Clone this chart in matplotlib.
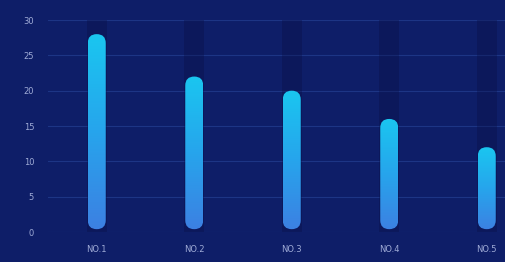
import numpy as np
import matplotlib
matplotlib.use("Agg")
import matplotlib.pyplot as plt
from matplotlib.patches import FancyBboxPatch

# data
categories = ['NO.1', 'NO.2', 'NO.3', 'NO.4', 'NO.5']
values = [28, 22, 20, 16, 12]
y_max = 30
y_ticks = [0, 5, 10, 15, 20, 25, 30]

bg = '#0e1e68'
grid_col = '#1d3585'
text_col = '#9fabd6'

fig = plt.figure(figsize=(5.05, 2.62), dpi=100, facecolor=bg)
# axes runs past the right edge, like the reference crop
ax = fig.add_axes([48/505, 30/262, 487.5/505, 212/262], facecolor=bg)

x = np.arange(len(categories))
ax.set_yticks(y_ticks)
ax.set_xticks(x)
ax.set_xticklabels(categories)
ax.tick_params(axis='y', colors=text_col, labelsize=6, length=0, pad=10)
ax.tick_params(axis='x', colors=text_col, labelsize=6, length=0, pad=9)
ax.grid(axis='y', color=grid_col, linewidth=0.8)
ax.set_axisbelow(True)
for s in ax.spines.values():
    s.set_visible(False)

bar_w = 18 / 97.5
shadow_w = 20 / 97.5
# data units per pixel: x -> 1/97.5, y -> 30/212
m_aspect = (y_max / 212) / (1 / 97.5)

# dark background columns
ax.bar(x, [y_max] * len(x), width=shadow_w, color='#0a0f45', alpha=0.35, zorder=1)

grad = np.linspace(0, 1, 256).reshape(-1, 1)
cmap = matplotlib.colors.LinearSegmentedColormap.from_list('bar', ['#3d7fe2', '#27a4ec', '#1ac6f0'])

for xi, v in zip(x, values):
    patch = FancyBboxPatch((xi - bar_w / 2, 0.4), bar_w, v - 0.4,
                           boxstyle='round,pad=0,rounding_size=%f' % (bar_w / 2),
                           mutation_aspect=m_aspect, facecolor='none', edgecolor='none')
    ax.add_patch(patch)
    im = ax.imshow(grad, extent=(xi - bar_w / 2, xi + bar_w / 2, 0, v), origin='lower',
                   cmap=cmap, aspect='auto', zorder=2)
    im.set_clip_path(patch)

ax.set_xlim(-0.5, len(categories) - 0.5)
ax.set_ylim(0, y_max)

fig.savefig('out.png', dpi=100, facecolor=bg)
